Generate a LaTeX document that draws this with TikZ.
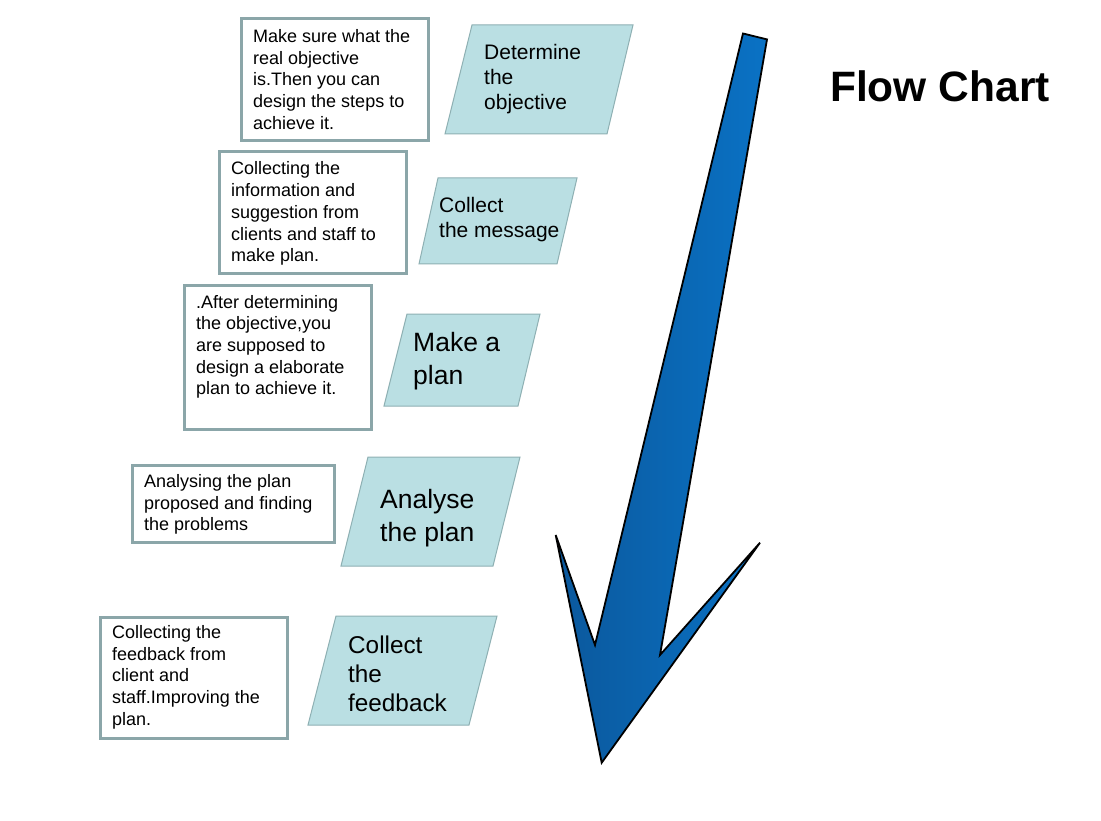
\documentclass[tikz,border=0pt]{standalone}
\usepackage{fontspec}
\setmainfont{Liberation Sans}
\definecolor{boxline}{RGB}{139,166,169}
\definecolor{parafill}{RGB}{186,223,227}
\definecolor{paraline}{RGB}{142,176,179}
\definecolor{arrowL}{RGB}{11,88,156}
\definecolor{arrowR}{RGB}{10,114,197}
\tikzset{
  notebox/.style={draw=boxline, line width=3pt, fill=white},
  parabox/.style={draw=paraline, line width=1pt, fill=parafill},
  notetext/.style={anchor=base west, inner sep=0pt, align=left, font=\fontsize{18}{21.7}\selectfont},
  parasmall/.style={anchor=base west, inner sep=0pt, align=left, font=\fontsize{21}{25}\selectfont},
  paramid/.style={anchor=base west, inner sep=0pt, align=left, font=\fontsize{24.3}{29}\selectfont},
  parabig/.style={anchor=base west, inner sep=0pt, align=left, font=\fontsize{26.5}{33}\selectfont},
  bigarrow/.style={left color=arrowL, right color=arrowR, draw=black, line width=1.8pt, line join=miter}
}
\begin{document}
\begin{tikzpicture}[x=1pt,y=-1pt]
\useasboundingbox (0,0) rectangle (1101,821);
\fill[white] (0,0) rectangle (1101,821);

% note boxes
\draw[notebox] (241,19) rectangle (428,141);
\draw[notebox] (219,152) rectangle (406,274);
\draw[notebox] (184,286) rectangle (371,429);
\draw[notebox] (132,465) rectangle (334,542);
\draw[notebox] (100,617) rectangle (287,738);

% (anchor = baseline of the last line)
\node[notetext] (n1) at (253,129.3) {Make sure what the\\real objective\\is.Then you can\\design the steps to\\achieve it.};
\node[notetext] (n2) at (231,261.8) {Collecting the\\information and\\suggestion from\\clients and staff to\\make plan.};
\node[notetext] (n3) at (196,394.8) {.After determining\\the objective,you\\are supposed to\\design a elaborate\\plan to achieve it.};
\node[notetext] (n4) at (144,530.9) {Analysing the plan\\proposed and finding\\the problems};
\node[notetext] (n5) at (112,725.3) {Collecting the\\feedback from\\client and\\staff.Improving the\\plan.};

% parallelograms
\draw[parabox] (472,25) -- (633,25) -- (607,134) -- (445,134) -- cycle;
\draw[parabox] (438,178) -- (577,178) -- (557,264) -- (419,264) -- cycle;
\draw[parabox] (407,314) -- (540,314) -- (518,406) -- (384,406) -- cycle;
\draw[parabox] (368,457) -- (520,457) -- (493,566) -- (341,566) -- cycle;
\draw[parabox] (336,616) -- (497,616) -- (469,725) -- (308,725) -- cycle;

\node[parasmall] (p1) at (484,109.3) {Determine\\the\\objective};
\node[parasmall] (p2) at (439,237.7) {Collect\\the message};
\node[parabig] (p3) at (413,384.7) {Make a\\plan};
\node[parabig] (p4) at (380,541) {Analyse\\the plan};
\node[paramid] (p5) at (348,711.3) {Collect\\the\\feedback};

% big arrow
\shadedraw[bigarrow] (743,33.5) -- (767,39.4) -- (660,655) -- (760,542.7)
  -- (601.7,762.7) -- (555.7,535) -- (595,645) -- cycle;

% title
\node[anchor=base west, inner sep=0pt, font=\fontsize{42.5}{50}\selectfont\bfseries] (title) at (830,102) {Flow Chart};
\end{tikzpicture}
\end{document}
